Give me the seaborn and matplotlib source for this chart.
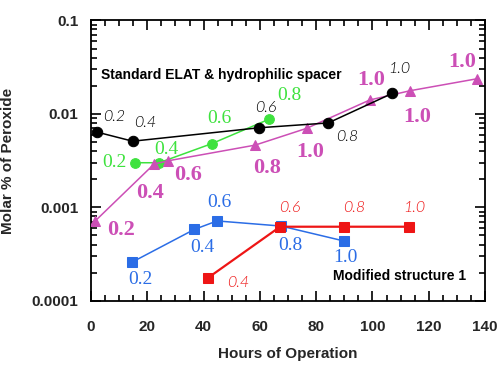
import matplotlib
matplotlib.use("Agg")
import matplotlib.pyplot as plt
import seaborn as sns
import numpy as np
from matplotlib.ticker import FixedLocator, NullFormatter, LogLocator, MultipleLocator

# ---------------- data ----------------
std_hours = [2.0, 14.8, 59.7, 84.3, 107.1]
std_vals = [0.0064, 0.0051, 0.0071, 0.0080, 0.0166]
std_labels = ["0.2", "0.4", "0.6", "0.8", "1.0"]

green_hours = [15.8, 24.2, 42.9, 63.4]
green_vals = [0.0030, 0.0030, 0.0048, 0.0088]
green_labels = ["0.2", "0.4", "0.6", "0.8"]

mag_hours = [1.4, 22.4, 27.2, 58.3, 76.6, 99.1, 113.4, 137.3]
mag_vals = [0.00071, 0.0029, 0.00314, 0.00463, 0.0070, 0.0141, 0.0177, 0.0238]
mag_labels = ["0.2", "0.4", "0.6", "0.8", "1.0", "1.0", "1.0", "1.0"]

blue_hours = [14.7, 36.7, 44.8, 67.6, 89.9]
blue_vals = [0.00026, 0.00058, 0.000715, 0.00063, 0.000436]
blue_labels = ["0.2", "0.4", "0.6", "0.8", "1.0"]

red_hours = [41.7, 67.2, 90.0, 113.1]
red_vals = [0.000177, 0.00062, 0.00062, 0.00062]
red_labels = ["0.4", "0.6", "0.8", "1.0"]

x_ticks = [0, 20, 40, 60, 80, 100, 120, 140]
y_ticks = [0.0001, 0.001, 0.01, 0.1]
y_ticklabels = ["0.0001", "0.001", "0.01", "0.1"]

# ---------------- style ----------------
sns.set_theme(style="ticks")
plt.rcParams["font.family"] = ["Liberation Sans", "DejaVu Sans"]

BLACK = "#000000"
GREEN = "#3ee23e"
MAGENTA = "#cc4fb6"
BLUE = "#2b6de6"
RED = "#ee1515"

fig = plt.figure(figsize=(5.0, 3.65), dpi=100)
ax = fig.add_axes([0.182, 0.176, 0.788, 0.768])

def series(x, y, color, marker, ms, lw, z):
    sns.lineplot(x=x, y=y, ax=ax, color=color, marker=marker, markersize=ms,
                 markeredgecolor=color, linewidth=lw, sort=False, zorder=z,
                 estimator=None)

series(green_hours, green_vals, GREEN, "o", 7, 1.1, 3)
series(mag_hours, mag_vals, MAGENTA, "^", 7.5, 1.1, 4)
series(std_hours, std_vals, BLACK, "o", 7.5, 1.1, 5)
series(blue_hours, blue_vals, BLUE, "s", 6.5, 1.1, 3)
series(red_hours, red_vals, RED, "s", 7, 1.6, 4)

ax.set_yscale("log")
ax.set_xlim(0, 140)
ax.set_ylim(0.0001, 0.1)

# labels next to points
italic_thin = dict(family=["Lato", "DejaVu Sans"], style="italic", weight=300, size=11.5)
serif = dict(family=["Liberation Serif", "DejaVu Serif"], size=14)
serif_bold = dict(family=["Liberation Serif", "DejaVu Serif"], size=16, weight="bold")

std_off = [(18, 15), (13, 18), (7, 20), (19, -14), (7, 24)]
green_off = [(-21, 0), (7, 13), (8, 25), (20, 24)]
mag_off = [(26, -9), (-4, -29), (21, -14), (12, -23), (4, -24), (1, 20), (7, -26), (-15, 17)]
blue_off = [(8, -18), (8, -18), (2, 18), (9, -19), (1, -16)]
red_off = [(30, -5), (10, 19), (10, 19), (5, 19)]

def label(xs, ys, labs, offs, color, fdict):
    for x, y, t, o in zip(xs, ys, labs, offs):
        ax.annotate(t, (x, y), xytext=o, textcoords="offset pixels",
                    ha="center", va="center", color=color, zorder=6, **fdict)

label(std_hours, std_vals, std_labels, std_off, BLACK, italic_thin)
label(green_hours, green_vals, green_labels, green_off, GREEN, serif)
label(mag_hours, mag_vals, mag_labels, mag_off, MAGENTA, serif_bold)
label(blue_hours, blue_vals, blue_labels, blue_off, BLUE, serif)
label(red_hours, red_vals, red_labels, red_off, RED, italic_thin)

ax.text(0.025, 0.805, "Standard ELAT & hydrophilic spacer", transform=ax.transAxes,
        ha="left", va="center", fontsize=10, fontweight="bold", color="black")
ax.text(0.613, 0.087, "Modified structure 1", transform=ax.transAxes,
        ha="left", va="center", fontsize=10, fontweight="bold", color="black")

# ticks
ax.xaxis.set_major_locator(FixedLocator(x_ticks))
ax.xaxis.set_minor_locator(MultipleLocator(5))
ax.yaxis.set_major_locator(FixedLocator(y_ticks))
ax.yaxis.set_minor_locator(LogLocator(base=10, subs=np.arange(2, 10)))
ax.yaxis.set_minor_formatter(NullFormatter())
ax.set_yticklabels(y_ticklabels)
ax.set_xticklabels([str(v) for v in x_ticks])
ax.tick_params(which="both", direction="in", top=True, right=True, color="black", width=1.2)
ax.tick_params(which="major", length=7, labelsize=11, pad=14)
ax.tick_params(axis="y", which="major", pad=9)
ax.tick_params(which="minor", length=4)
for lab in ax.get_xticklabels() + ax.get_yticklabels():
    lab.set_fontweight("bold")
for s in ax.spines.values():
    s.set_color("black")
    s.set_linewidth(1.3)

ax.set_xlabel("Hours of Operation", fontsize=11, fontweight="bold", labelpad=9)
ax.set_ylabel("Molar % of Peroxide", fontsize=11, fontweight="bold", labelpad=12)

fig.savefig("out.png", dpi=100, facecolor="white")
